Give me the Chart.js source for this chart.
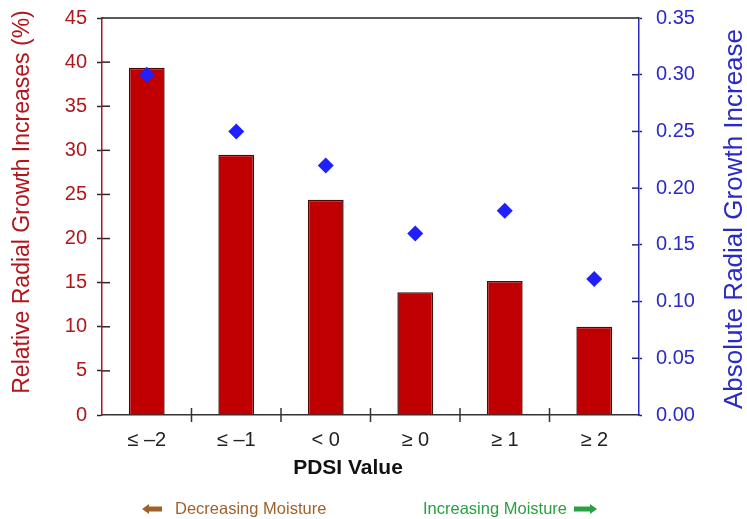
<!DOCTYPE html>
<html>
<head>
<meta charset="utf-8">
<script src="https://cdn.jsdelivr.net/npm/chart.js@4.4.0/dist/chart.umd.min.js"></script>
<style>
  html, body { margin: 0; padding: 0; background: #fff; }
  #wrap { width: 747px; height: 519px; }
</style>
</head>
<body>
<div id="wrap"><canvas id="grafica" width="747" height="519"></canvas></div>
<script>
var categorias = ["\u2264 \u20132", "\u2264 \u20131", "< 0", "\u2265 0", "\u2265 1", "\u2265 2"];
var incremento_relativo = [39.35, 29.5, 24.4, 13.9, 15.2, 10.0];
var incremento_absoluto = [0.30, 0.25, 0.22, 0.16, 0.18, 0.12];
var ticks_izquierda = [0, 5, 10, 15, 20, 25, 30, 35, 40, 45];
var ticks_derecha = [0, 0.05, 0.10, 0.15, 0.20, 0.25, 0.30, 0.35];

var ROJO = "#b3151c";
var AZUL = "#2a2ac4";
var FUENTE = "'Liberation Sans', Arial, sans-serif";

// marcas hacia dentro, borde superior, titulos y leyenda de humedad
var pluginExtras = {
	id: "extras",
	afterDraw: function (chart) {
		var ctx = chart.ctx;
		var area = chart.chartArea;
		var y = chart.scales.y, y2 = chart.scales.y2;
		ctx.save();
		ctx.lineWidth = 1.5;

		ctx.strokeStyle = "#222";
		ctx.beginPath();
		ctx.moveTo(area.left, area.top);
		ctx.lineTo(area.right, area.top);
		ctx.stroke();

		ctx.strokeStyle = "#3a2222";
		for (var i = 1; i < ticks_izquierda.length - 1; i++) {
			var py = y.getPixelForValue(ticks_izquierda[i]);
			ctx.beginPath();
			ctx.moveTo(area.left, py);
			ctx.lineTo(area.left + 8, py);
			ctx.stroke();
		}
		ctx.strokeStyle = "#23238a";
		for (var j = 1; j < ticks_derecha.length - 1; j++) {
			var py2 = y2.getPixelForValue(ticks_derecha[j]);
			ctx.beginPath();
			ctx.moveTo(area.right - 7, py2);
			ctx.lineTo(area.right, py2);
			ctx.stroke();
		}
		ctx.strokeStyle = "#333";
		var paso = (area.right - area.left) / categorias.length;
		for (var k = 1; k < categorias.length; k++) {
			var px = area.left + paso * k;
			ctx.beginPath();
			ctx.moveTo(px, area.bottom - 7);
			ctx.lineTo(px, area.bottom + 7);
			ctx.stroke();
		}

		// titulos de los ejes
		ctx.textAlign = "center";
		ctx.textBaseline = "middle";
		ctx.save();
		ctx.translate(23, 202);
		ctx.rotate(-Math.PI / 2);
		ctx.fillStyle = ROJO;
		ctx.font = "23px " + FUENTE;
		ctx.fillText("Relative Radial Growth Increases (%)", 0, 0);
		ctx.restore();

		ctx.save();
		ctx.translate(735, 219);
		ctx.rotate(-Math.PI / 2);
		ctx.fillStyle = AZUL;
		ctx.font = "26px " + FUENTE;
		ctx.fillText("Absolute Radial Growth Increase", 0, 0);
		ctx.restore();

		ctx.fillStyle = "#111";
		ctx.font = "bold 21px " + FUENTE;
		ctx.fillText("PDSI Value", 348, 468);

		// leyenda de humedad
		var yt = 509;
		ctx.font = "16.5px " + FUENTE;
		ctx.fillStyle = "#a0622a";
		ctx.beginPath();
		ctx.moveTo(142, yt);
		ctx.lineTo(149, yt - 5);
		ctx.lineTo(149, yt - 2.5);
		ctx.lineTo(162, yt - 2.5);
		ctx.lineTo(162, yt + 2.5);
		ctx.lineTo(149, yt + 2.5);
		ctx.lineTo(149, yt + 5);
		ctx.closePath();
		ctx.fill();
		ctx.textAlign = "left";
		ctx.fillText("Decreasing Moisture", 175, yt);

		ctx.fillStyle = "#2aa040";
		ctx.fillText("Increasing Moisture", 423, yt);
		ctx.beginPath();
		ctx.moveTo(597, yt);
		ctx.lineTo(590, yt - 5);
		ctx.lineTo(590, yt - 2.5);
		ctx.lineTo(574, yt - 2.5);
		ctx.lineTo(574, yt + 2.5);
		ctx.lineTo(590, yt + 2.5);
		ctx.lineTo(590, yt + 5);
		ctx.closePath();
		ctx.fill();
		ctx.restore();
	}
};

var contexto = document.getElementById("grafica").getContext("2d");
var grafica = new Chart(contexto, {
	type: "bar",
	data: {
		labels: categorias,
		datasets: [{
			label: "Absolute Radial Growth Increase",
			type: "line",
			data: incremento_absoluto,
			yAxisID: "y2",
			showLine: false,
			pointStyle: "rectRot",
			pointRadius: 8,
			pointHoverRadius: 8,
			pointBackgroundColor: "#1f1fff",
			pointBorderColor: "#1f1fff",
			pointBorderWidth: 0,
			order: 0
		}, {
			label: "Relative Radial Growth Increases (%)",
			data: incremento_relativo,
			yAxisID: "y",
			backgroundColor: "#c00000",
			borderColor: "#4a0a0a",
			borderWidth: 1.5,
			barPercentage: 0.8,
			categoryPercentage: 0.5,
			order: 1
		}]
	},
	options: {
		responsive: false,
		animation: false,
		layout: { padding: { top: 18, right: 0, bottom: 0, left: 0 } },
		plugins: {
			legend: { display: false },
			tooltip: { enabled: false }
		},
		scales: {
			x: {
				offset: true,
				afterFit: function (axis) { axis.height = 104; },
				grid: { display: false, drawOnChartArea: false },
				border: { display: true, color: "#333", width: 1.5 },
				ticks: { color: "#222", padding: 5, font: { family: FUENTE, size: 20 } }
			},
			y: {
				position: "left",
				min: 0,
				max: 45,
				afterFit: function (axis) {
					axis.width = 102;
					axis.paddingTop = 0;
					axis.paddingBottom = 0;
				},
				afterBuildTicks: function (axis) {
					axis.ticks = ticks_izquierda.map(function (v) { return { value: v }; });
				},
				grid: { drawOnChartArea: false, tickLength: 5, color: "#3a2222", tickWidth: 1.5 },
				border: { color: ROJO, width: 1.5 },
				ticks: { color: ROJO, padding: 10, font: { family: FUENTE, size: 20 } }
			},
			y2: {
				position: "right",
				min: 0,
				max: 0.35,
				afterFit: function (axis) {
					axis.width = 108;
					axis.paddingTop = 0;
					axis.paddingBottom = 0;
				},
				afterBuildTicks: function (axis) {
					axis.ticks = ticks_derecha.map(function (v) { return { value: v }; });
				},
				grid: { drawOnChartArea: false, tickLength: 3, color: "#23238a", tickWidth: 1.5 },
				border: { color: AZUL, width: 1.5 },
				ticks: {
					color: AZUL,
					padding: 14,
					font: { family: FUENTE, size: 20 },
					callback: function (v) { return Number(v).toFixed(2); }
				}
			}
		}
	},
	plugins: [pluginExtras]
});
</script>
</body>
</html>
